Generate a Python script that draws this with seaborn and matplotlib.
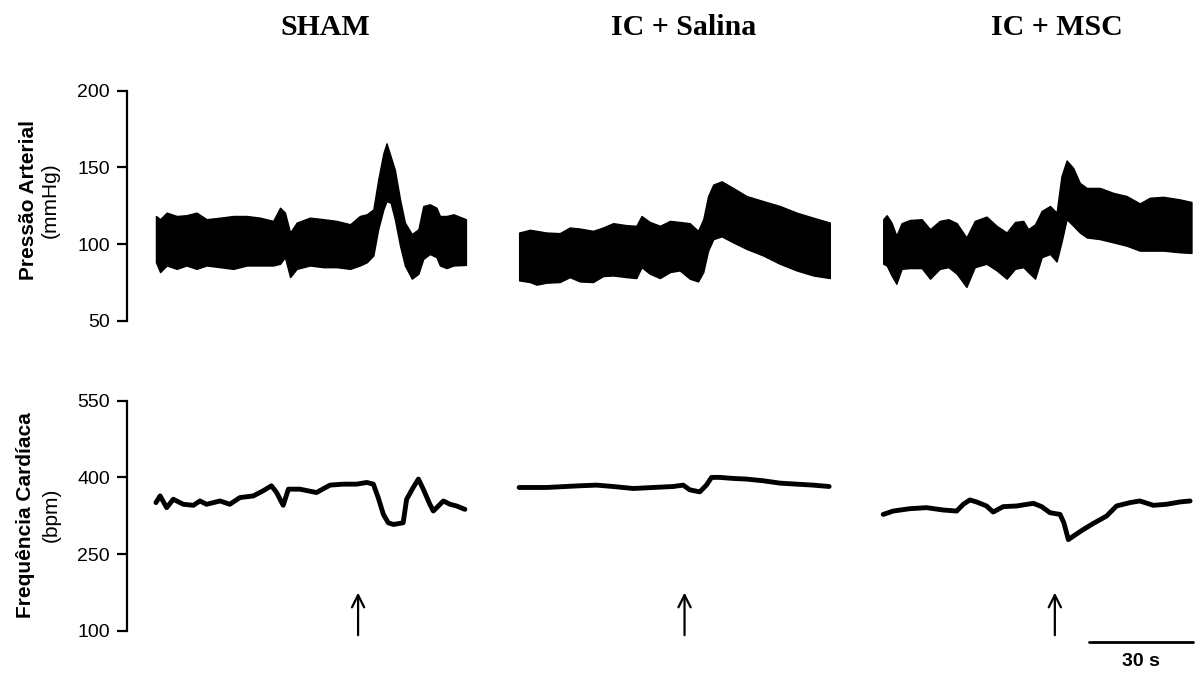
import matplotlib
matplotlib.use("Agg")
import matplotlib.pyplot as plt
import seaborn as sns
import pandas as pd

# groups shown in the three columns
groups = ["SHAM", "IC + Salina", "IC + MSC"]

# --- arterial pressure envelopes (mmHg), time in s from start of each trace ---
sham_bp_t = [0, 1.2, 3.1, 6.0, 8.8, 11.7, 14.6, 18.5, 22.3, 26.2, 30.0, 33.8, 35.8, 37.2, 38.7,
             40.6, 44.4, 48.3, 52.1, 56.0, 58.8, 60.8, 62.7, 64.1, 65.6, 66.5, 67.7, 68.9, 70.4,
             71.8, 73.8, 75.7, 77.1, 79.0, 80.9, 81.9, 83.8, 85.8, 89.4]
sham_bp_hi = [118.3, 116.2, 120.5, 118.3, 118.8, 120.5, 116.2, 117.2, 118.3, 118.3, 117.2, 115.1,
              123.7, 120.5, 107.5, 114.0, 117.2, 116.2, 115.1, 112.9, 118.3, 119.4, 122.6, 142.0,
              159.3, 165.7, 157.1, 148.5, 129.1, 114.0, 106.5, 109.7, 124.8, 125.9, 123.7, 118.3,
              118.3, 119.4, 116.2]
sham_bp_lo = [88.1, 81.7, 86.0, 83.8, 86.0, 83.8, 86.0, 84.9, 83.8, 86.0, 86.0, 86.0, 87.1, 91.4,
              78.4, 83.8, 86.0, 84.9, 84.9, 83.8, 86.0, 88.1, 92.5, 109.7, 122.6, 128.0, 126.9,
              116.2, 98.9, 86.0, 77.4, 80.6, 90.3, 93.5, 91.4, 86.0, 84.3, 86.0, 86.4]

sal_bp_t = [0, 3.1, 5.0, 7.9, 11.7, 14.6, 17.5, 21.3, 24.2, 27.1, 31.0, 33.8, 35.3, 37.7, 40.6,
            43.5, 46.3, 49.2, 51.6, 53.1, 54.5, 56.0, 58.4, 61.7, 65.6, 70.4, 75.2, 80.0, 84.8, 89.6]
sal_bp_hi = [107.5, 109.3, 108.6, 107.5, 107.1, 110.8, 110.1, 108.6, 110.8, 113.6, 112.3, 111.9,
             118.3, 114.4, 111.9, 115.1, 114.4, 113.6, 108.6, 116.2, 131.3, 138.8, 140.9, 136.6,
             131.3, 128.0, 124.8, 120.5, 117.2, 114.0]
sal_bp_lo = [76.3, 75.2, 73.5, 74.8, 75.2, 78.4, 75.6, 75.2, 79.1, 79.5, 78.4, 77.8, 84.9, 80.6,
             77.8, 81.7, 82.8, 77.4, 75.6, 81.7, 95.7, 103.2, 105.0, 101.1, 96.8, 92.5, 87.1,
             82.8, 79.5, 77.8]

msc_bp_t = [0, 1.0, 2.4, 3.8, 5.3, 7.7, 11.1, 13.5, 16.3, 18.8, 21.2, 24.0, 26.4, 29.8, 32.7,
            35.6, 38.0, 40.4, 41.8, 43.8, 45.7, 48.1, 50.0, 51.4, 52.9, 54.8, 56.7, 58.7, 62.5,
            66.3, 70.2, 74.0, 76.9, 80.8, 85.6, 88.9]
msc_bp_hi = [116.2, 118.8, 114.0, 105.4, 113.6, 115.7, 116.2, 109.7, 115.1, 116.2, 113.6, 104.3,
             115.1, 117.9, 111.9, 107.5, 114.4, 115.1, 109.7, 112.9, 121.6, 124.8, 120.5, 144.2,
             154.5, 149.6, 139.9, 136.6, 136.6, 133.4, 131.3, 126.5, 130.2, 130.8, 129.1, 127.4]
msc_bp_lo = [87.1, 86.0, 79.5, 74.1, 83.8, 84.3, 84.3, 77.4, 83.8, 84.9, 80.6, 72.0, 84.9, 87.1,
             82.8, 77.4, 83.8, 84.9, 81.7, 77.4, 91.4, 93.5, 88.6, 101.1, 116.2, 111.9, 107.5,
             104.3, 103.2, 101.1, 98.9, 95.7, 95.7, 95.7, 94.6, 94.2]

# --- heart rate (bpm) ---
sham_hr_t = [0, 1.2, 3.1, 5.0, 7.9, 10.8, 12.7, 14.6, 18.5, 21.3, 24.2, 28.1, 30.9, 33.3, 34.8,
             36.7, 38.2, 41.5, 46.3, 50.2, 54.0, 57.9, 60.8, 62.7, 64.1, 65.6, 67.0, 68.5, 71.3,
             72.3, 74.2, 75.7, 77.1, 79.0, 80.0, 82.9, 84.8, 86.7, 89.1]
sham_hr = [350.7, 363.8, 340.8, 357.2, 347.4, 345.4, 353.9, 347.4, 353.9, 347.4, 360.5, 363.8,
           373.7, 383.6, 370.4, 345.4, 377.0, 377.0, 370.4, 384.9, 386.8, 386.8, 390.1, 386.8,
           360.5, 327.6, 311.2, 307.9, 311.2, 357.2, 380.3, 396.7, 377.0, 347.4, 334.2, 353.9,
           347.4, 344.1, 337.5]

sal_hr_t = [0, 7.9, 17.5, 22.3, 27.1, 32.9, 38.7, 44.4, 47.3, 49.2, 52.1, 54.0, 55.5, 57.9, 61.7,
            65.6, 70.4, 75.2, 80.0, 84.8, 89.4]
sal_hr = [380.3, 380.3, 383.6, 384.9, 382.2, 378.3, 380.3, 382.2, 384.9, 375.7, 371.7, 384.9,
          400.0, 400.0, 398.0, 396.7, 393.4, 388.8, 386.8, 384.9, 382.2]

msc_hr_t = [0, 2.9, 7.7, 12.5, 17.3, 21.2, 23.1, 25.0, 26.9, 29.8, 31.7, 34.6, 38.5, 43.3, 45.7,
            48.1, 51.0, 52.1, 53.4, 54.8, 57.7, 60.6, 64.4, 67.3, 71.2, 74.0, 77.9, 81.7, 85.6, 88.5]
msc_hr = [327.6, 334.2, 338.8, 340.8, 336.2, 334.2, 347.4, 355.9, 352.0, 344.1, 332.2, 342.8,
          344.1, 349.3, 342.8, 330.9, 327.6, 311.2, 278.3, 284.9, 298.0, 309.9, 324.3, 344.1,
          350.7, 353.9, 345.4, 347.4, 352.0, 353.9]

# stimulus time (arrow) in each trace, s
arrow_t = [58.3, 47.7, 49.5]

bp_data = [(sham_bp_t, sham_bp_lo, sham_bp_hi),
           (sal_bp_t, sal_bp_lo, sal_bp_hi),
           (msc_bp_t, msc_bp_lo, msc_bp_hi)]
hr_data = [(sham_hr_t, sham_hr), (sal_hr_t, sal_hr), (msc_hr_t, msc_hr)]

# layout: where each trace starts on the shared time axis (s)
offsets = [8.45, 113.2, 218.2]
title_x = [0.272, 0.5714, 0.883]

sns.set_style("ticks")
plt.rcParams["font.family"] = ["Liberation Sans", "DejaVu Sans"]
plt.rcParams.update({"text.color": "black", "axes.edgecolor": "black",
                     "ytick.color": "black", "ytick.labelcolor": "black"})

fig = plt.figure(figsize=(11.97, 6.75), dpi=100)
ax_bp = fig.add_axes([0.1058, 0.5249, 0.8942, 0.3407])
ax_hr = fig.add_axes([0.1058, 0.0656, 0.8942, 0.3407])

for (t, lo, hi), off in zip(bp_data, offsets):
    tt = [v + off for v in t]
    ax_bp.fill_between(tt, lo, hi, color="black", lw=1.0, edgecolor="black")

for (t, hr), off in zip(hr_data, offsets):
    df = pd.DataFrame({"t": [v + off for v in t], "hr": hr})
    sns.lineplot(data=df, x="t", y="hr", ax=ax_hr, color="black", lw=3.5,
                 estimator=None, sort=False)

for ax, lim, ticks in [(ax_bp, (50, 200), [50, 100, 150, 200]),
                       (ax_hr, (100, 550), [100, 250, 400, 550])]:
    ax.set_xlim(0, 308.7)
    ax.set_ylim(*lim)
    ax.set_yticks(ticks)
    ax.set_xticks([])
    ax.set_xlabel("")
    ax.set_ylabel("")
    sns.despine(ax=ax, bottom=True)
    ax.spines["left"].set_linewidth(1.6)
    ax.spines["left"].set_color("black")
    ax.tick_params(axis="y", length=7, width=1.6, labelsize=14, pad=5,
                   color="black", labelcolor="black")
    ax.patch.set_alpha(0)

# stimulus arrows
for at, off in zip(arrow_t, offsets):
    ax_hr.annotate("", xy=(at + off, 180), xytext=(at + off, 85.7),
                   arrowprops=dict(arrowstyle="->", lw=1.6, color="black", mutation_scale=22),
                   annotation_clip=False)

# 30 s scale bar
ax_hr.plot([277.6, 307.6], [78.5, 78.5], color="black", lw=2, clip_on=False)
ax_hr.text(292.6, 40, "30 s", ha="center", va="center", fontsize=14, fontweight="bold")

# group titles
for g, x in zip(groups, title_x):
    fig.text(x, 0.959, g, ha="center", va="center", fontsize=21.5, fontweight="bold",
             family=["Liberation Serif", "DejaVu Serif"])

# y labels
fig.text(0.0234, 0.7037, "Pressão Arterial", rotation=90, ha="center", va="center",
         fontsize=15, fontweight="bold")
fig.text(0.0418, 0.7037, "(mmHg)", rotation=90, ha="center", va="center", fontsize=15)
fig.text(0.0217, 0.237, "Frequência Cardíaca", rotation=90, ha="center", va="center",
         fontsize=15, fontweight="bold")
fig.text(0.0426, 0.237, "(bpm)", rotation=90, ha="center", va="center", fontsize=15)

fig.savefig("out.png", dpi=100)
